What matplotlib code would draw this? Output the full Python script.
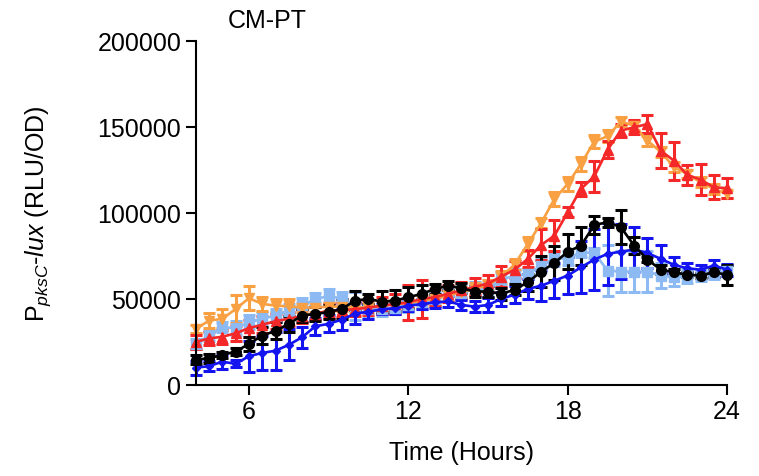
import numpy as np
import matplotlib
matplotlib.use("Agg")
import matplotlib.pyplot as plt

plt.rcParams['font.family'] = ['Liberation Sans', 'DejaVu Sans']
plt.rcParams['mathtext.fontset'] = 'custom'
plt.rcParams['mathtext.rm'] = 'Liberation Sans'
plt.rcParams['mathtext.it'] = 'Liberation Sans:italic'

# time points, every half hour from 4 h to 24 h
hours = np.arange(4, 24.01, 0.5)

orange = [32600, 37400, 38400, 44200, 50400, 47100, 46100, 45700, 45000, 45000,
          45500, 45500, 45000, 45000, 46000, 47000, 47500, 49000, 50000, 52000,
          54000, 56000, 58000, 63000, 70000, 82000, 94200, 108100, 116900, 128500,
          141500, 144600, 153100, 150800, 142000, 135600, 126600, 122700, 117800, 114000,
          111000]
orange_err = [2500, 4500, 5500, 8000, 7000, 4000, 4000, 4000, 2500, 2500,
              2500, 2500, 2500, 2500, 2500, 2500, 3000, 3000, 3000, 3000,
              3000, 3000, 3000, 3500, 3000, 4000, 3000, 4000, 4000, 4000,
              4000, 3500, 2500, 2500, 3000, 3000, 3000, 2500, 3000, 3000,
              2500]

red = [25000, 27000, 28000, 30000, 33000, 35000, 37000, 38500, 40000, 41500,
       43000, 43500, 44000, 45000, 46000, 47000, 48000, 50000, 51000, 53000,
       55000, 57000, 59000, 63000, 67000, 73300, 81400, 86800, 100400, 114000,
       121300, 136800, 147900, 149800, 151700, 136200, 130400, 122100, 119400, 114900,
       114400]
red_err = [4000, 4000, 4000, 4500, 5000, 5000, 4500, 4000, 4000, 4000,
           4000, 4000, 4000, 4500, 5000, 6000, 10000, 11000, 5000, 5000,
           5000, 5000, 5000, 6000, 5000, 5000, 9000, 9000, 3000, 4000,
           9000, 5000, 4000, 4000, 5000, 10000, 11000, 6000, 9000, 7000,
           6000]

black = [14700, 15500, 17400, 19400, 23800, 28700, 31400, 35500, 40300, 41300,
         42300, 44200, 49000, 50000, 48400, 49000, 51000, 52900, 55800, 57700,
         56200, 54300, 54300, 52900, 55400, 59700, 65900, 70900, 77500, 81000,
         93000, 94600, 91700, 81000, 72900, 67000, 65500, 64000, 63600, 65500,
         64000]
black_err = [2500, 2500, 2000, 2000, 4000, 5000, 5000, 4500, 4000, 4000,
             4000, 6000, 5500, 3000, 6000, 6000, 6000, 5000, 3000, 2500,
             3000, 3000, 3000, 3500, 3000, 5000, 9000, 10000, 10000, 11000,
             5000, 2500, 10000, 5000, 1500, 2500, 2000, 1500, 1500, 2500,
             6000]

blue = [10000, 10900, 13500, 12200, 16700, 18600, 19900, 23300, 27700, 34100,
        35500, 38000, 41500, 42500, 44000, 44500, 46000, 47000, 48000, 48500,
        46500, 45500, 46500, 50000, 52500, 55800, 57700, 60600, 63600, 68400,
        72900, 76200, 77500, 78700, 76700, 73300, 69800, 67800, 67000, 69400,
        67000]
blue_err = [4000, 3000, 4000, 2000, 9000, 10000, 11000, 9000, 6000, 5000,
            5000, 6000, 6000, 4000, 3000, 3000, 3000, 3000, 3000, 3000,
            3000, 3000, 4000, 4000, 5000, 6000, 9000, 10000, 11000, 15000,
            18000, 18000, 16000, 13000, 9000, 8000, 4500, 3000, 2500, 3000,
            3500]

lightblue = [23800, 28700, 33500, 33000, 36400, 38400, 40300, 43200, 46500, 49600,
             51900, 50000, 46000, 44000, 44000, 45000, 46500, 48000, 50000, 53000,
             53500, 55800, 55400, 61600, 63200, 64500, 69400, 73300, 73700, 77100,
             76700, 66500, 65900, 65900, 65900, 63600, 62600, 63200, 63600, 64500,
             66500]
lightblue_err = [3000, 3000, 3000, 4000, 4000, 4000, 4000, 4000, 4000, 4000,
                 4000, 4000, 8000, 5000, 4000, 4000, 4000, 4000, 4000, 4000,
                 4000, 4000, 4000, 4000, 4000, 3000, 4000, 4000, 4000, 3000,
                 3000, 15000, 12000, 12000, 12000, 7000, 5000, 4000, 3000, 3000,
                 3000]

series = [
    (lightblue, lightblue_err, '#8DBAF2', 's'),
    (orange, orange_err, '#F9A043', 'v'),
    (red, red_err, '#F42828', '^'),
    (blue, blue_err, '#1414F0', 'D'),
    (black, black_err, '#000000', 'o'),
]

fig = plt.figure(figsize=(7.59, 4.77), dpi=100)
ax = fig.add_axes([0.258, 0.191, 0.700, 0.721])

for vals, errs, col, mk in series:
    ms = 4.5 if mk == 'D' else 7
    ax.errorbar(hours, vals, yerr=errs, color=col, marker=mk, markersize=ms,
                linewidth=1.9, elinewidth=2.2, capsize=4.5, capthick=2.2, clip_on=False)

ax.set_xlim(4, 24)
ax.set_ylim(0, 200000)
ax.set_xticks([6, 12, 18, 24])
ax.set_yticks([0, 50000, 100000, 150000, 200000])
ax.spines['top'].set_visible(False)
ax.spines['right'].set_visible(False)
ax.spines['left'].set_linewidth(1.5)
ax.spines['bottom'].set_linewidth(1.5)
ax.tick_params(direction='out', length=7, width=1.5, labelsize=18)

ax.set_xlabel("Time (Hours)", fontsize=18, labelpad=12)
ax.set_ylabel(r'P$_{pksC}$-$lux$ (RLU/OD)', fontsize=18, labelpad=32)
fig.text(0.300, 0.955, "CM-PT", fontsize=18, va='center', ha='left')

plt.savefig("out.png", dpi=100)
